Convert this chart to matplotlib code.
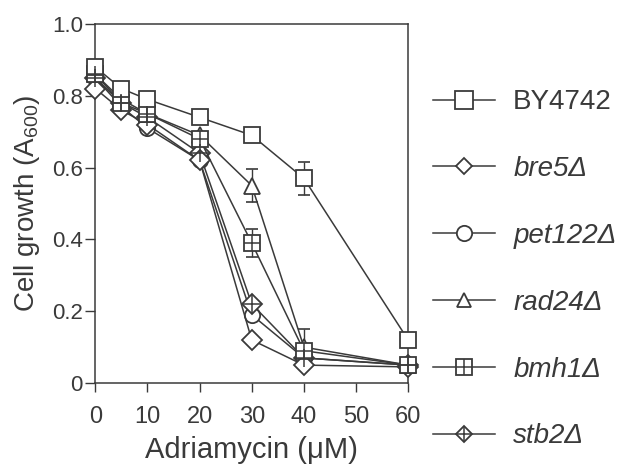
import numpy as np
import matplotlib.pyplot as plt
from matplotlib.lines import Line2D
from matplotlib.legend_handler import HandlerTuple

plt.rcParams['font.family'] = ['Liberation Sans', 'DejaVu Sans']

dose = [0, 5, 10, 20, 30, 40, 60]

by4742 = [0.88, 0.82, 0.79, 0.74, 0.69, 0.57, 0.12]
bre5 = [0.82, 0.76, 0.72, 0.62, 0.12, 0.05, 0.045]
pet122 = [0.85, 0.77, 0.71, 0.62, 0.19, 0.07, 0.05]
rad24 = [0.86, 0.79, 0.75, 0.69, 0.55, 0.10, 0.05]
bmh1 = [0.86, 0.78, 0.75, 0.68, 0.39, 0.09, 0.05]
stb2 = [0.85, 0.78, 0.74, 0.64, 0.22, 0.07, 0.05]

by4742_err = [0.01, 0.01, 0.01, 0.01, 0.01, 0.045, 0.02]
rad24_err = [0.01, 0.01, 0.01, 0.01, 0.045, 0.05, 0.01]
bmh1_err = [0.01, 0.01, 0.01, 0.01, 0.04, 0.02, 0.01]

labels = ['BY4742', 'bre5\u0394', 'pet122\u0394', 'rad24\u0394', 'bmh1\u0394', 'stb2\u0394']

ink = '#3a3a3a'
fig = plt.figure(figsize=(6.27, 4.7), dpi=100)
ax = fig.add_axes([0.152, 0.185, 0.499, 0.764])

def series(y, marker, err=None, extra=None, ms=11, ems=None):
    if err is not None:
        ax.errorbar(dose, y, yerr=err, fmt='none', ecolor=ink, elinewidth=1,
                    capsize=4, capthick=1.2, clip_on=False, zorder=2)
    ax.plot(dose, y, color=ink, lw=1.1, marker=marker, ms=ms,
            mfc='white', mec=ink, mew=1.3, clip_on=False, zorder=3)
    if extra is not None:
        ax.plot(dose, y, ls='none', marker=extra, ms=ems or ms, mec=ink,
                mew=1.1, clip_on=False, zorder=4)

series(pet122, 'o')
series(stb2, 'D', extra='+', ms=10, ems=13)
series(bre5, 'D', ms=10)
series(rad24, '^', err=rad24_err)
series(bmh1, 's', err=bmh1_err, extra='+')
series(by4742, 's', err=by4742_err)

# legend keys, sized like the printed key
def key(marker, ms, extra=None, ems=None):
    base = Line2D([], [], color=ink, lw=1.1, marker=marker, ms=ms,
                  mfc='white', mec=ink, mew=1.3)
    if extra is None:
        return (base,)
    return (base, Line2D([], [], ls='none', marker=extra, ms=ems, mec=ink, mew=1.1))

leg_handles = [key('s', 12.5), key('D', 8), key('o', 11), key('^', 9.5),
               key('s', 11, '+', 11), key('D', 8, '+', 11)]

ax.set_xlim(0, 60)
ax.set_ylim(0, 1.0)
ax.set_xticks([0, 10, 20, 30, 40, 50, 60])
ax.set_yticks([0, 0.2, 0.4, 0.6, 0.8, 1.0])
ax.set_yticklabels(['0', '0.2', '0.4', '0.6', '0.8', '1.0'])
ax.tick_params(direction='out', width=1, colors=ink, labelsize=16)
ax.tick_params(axis='x', length=6.5, pad=10, labelsize=17)
ax.tick_params(axis='y', length=7, pad=2)
for s in ax.spines.values():
    s.set_color(ink)
    s.set_linewidth(1.1)
ax.set_xlabel('Adriamycin (\u03bcM)', fontsize=21, color=ink, labelpad=5.5)
ax.set_ylabel('Cell growth (A$_{\\mathregular{600}}$)', fontsize=20, color=ink, labelpad=7)

leg = ax.legend(leg_handles, labels, handler_map={tuple: HandlerTuple(ndivide=1)},
                loc='upper left', bbox_to_anchor=(1.08, 0.818), frameon=False,
                fontsize=20, labelspacing=1.47, handlelength=2.23, handletextpad=0.65,
                borderaxespad=0, borderpad=0)
for i, t in enumerate(leg.get_texts()):
    t.set_color(ink)
    if i > 0:
        t.set_fontstyle('italic')

fig.savefig('out.png', dpi=100)
